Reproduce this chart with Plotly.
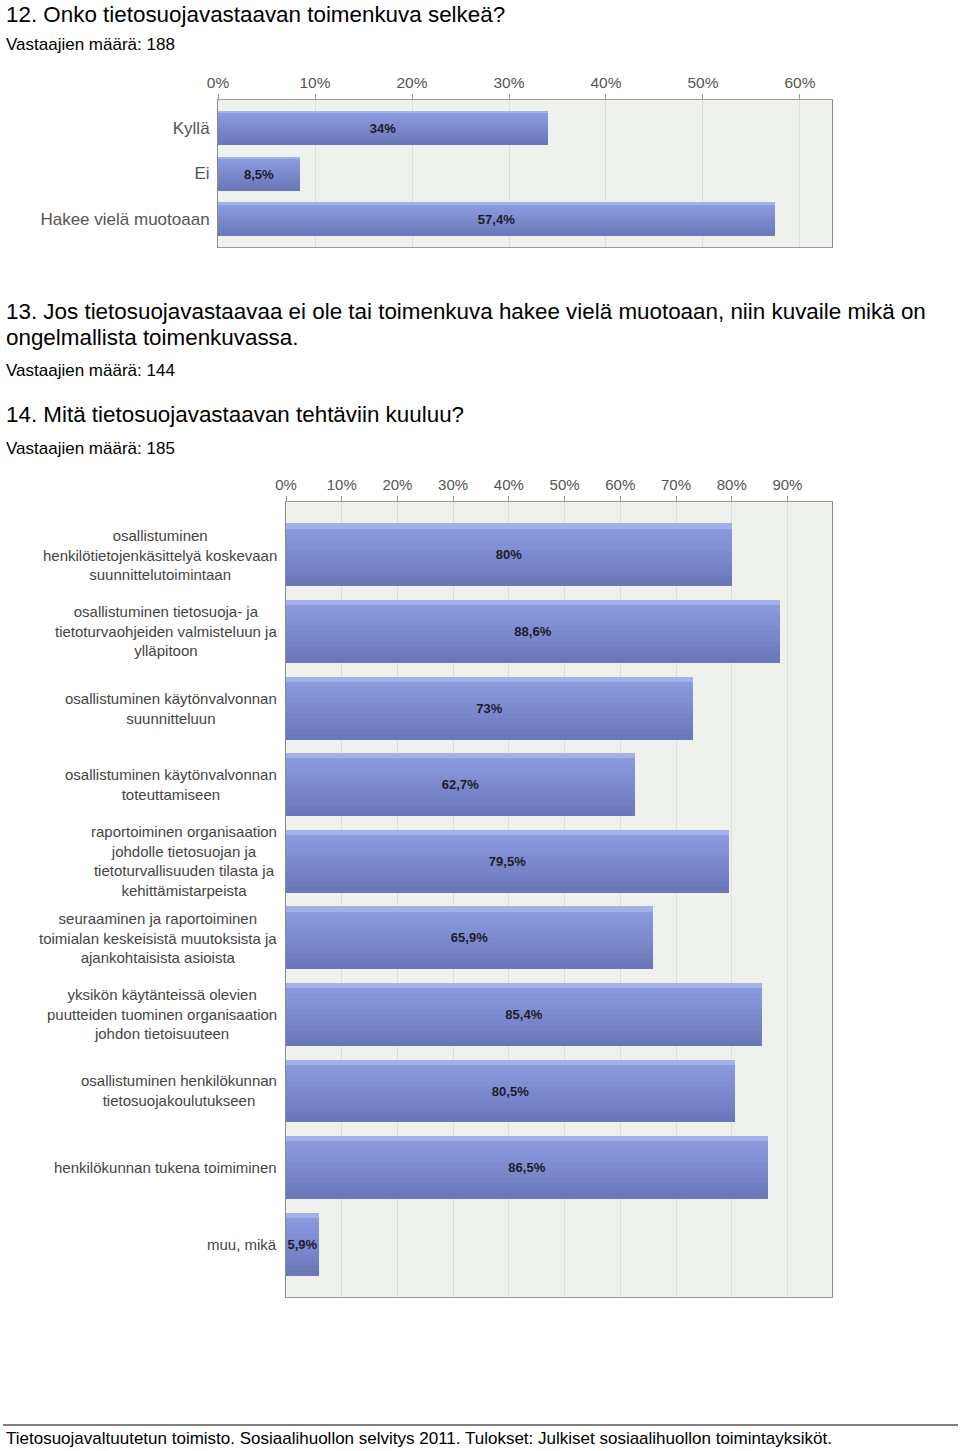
import plotly.graph_objects as go

W, H = 960, 1451

# ---- data ----
q12_labels = ["Kyllä", "Ei", "Hakee vielä muotoaan"]
q12_values = [34, 8.5, 57.4]
q12_ticks = [0, 10, 20, 30, 40, 50, 60]

q14_labels = [
    "osallistuminen<br>henkilötietojenkäsittelyä koskevaan<br>suunnittelutoimintaan",
    "osallistuminen tietosuoja- ja<br>tietoturvaohjeiden valmisteluun ja<br>ylläpitoon",
    "osallistuminen käytönvalvonnan<br>suunnitteluun",
    "osallistuminen käytönvalvonnan<br>toteuttamiseen",
    "raportoiminen organisaation<br>johdolle tietosuojan ja<br>tietoturvallisuuden tilasta ja<br>kehittämistarpeista",
    "seuraaminen ja raportoiminen<br>toimialan keskeisistä muutoksista ja<br>ajankohtaisista asioista",
    "yksikön käytänteissä olevien<br>puutteiden tuominen organisaation<br>johdon tietoisuuteen",
    "osallistuminen henkilökunnan<br>tietosuojakoulutukseen",
    "henkilökunnan tukena toimiminen",
    "muu, mikä",
]
q14_values = [80, 88.6, 73, 62.7, 79.5, 65.9, 85.4, 80.5, 86.5, 5.9]
q14_ticks = [0, 10, 20, 30, 40, 50, 60, 70, 80, 90]

FONT = "Liberation Sans, Arial, sans-serif"


def fmt(v):
    return f"{v:g}".replace(".", ",") + "%"


def lerp(c1, c2, t):
    return "#%02x%02x%02x" % tuple(round(a + (b - a) * t) for a, b in zip(c1, c2))


TOP = (0x8d, 0x9d, 0xe2)
BOT = (0x6a, 0x78, 0xba)

fig = go.Figure()


def add_bars(labels, values, bw, xa, ya, n=12):
    ids = [str(i) for i in range(len(labels))]
    step = bw / n
    for i in range(n):
        col = lerp(TOP, BOT, i / (n - 1))
        if i == 0:
            col = "#a4b0e8"
        fig.add_trace(go.Bar(
            x=values, y=ids, orientation="h", width=step * 1.02,
            offset=-bw / 2 + i * step, marker=dict(color=col, line=dict(width=0)),
            xaxis=xa, yaxis=ya, showlegend=False, hoverinfo="skip"))
    fig.add_trace(go.Bar(
        x=values, y=ids, orientation="h", width=bw, offset=-bw / 2,
        marker=dict(color="rgba(0,0,0,0)", line=dict(width=0)),
        text=[fmt(v) for v in values], textposition="inside",
        insidetextanchor="middle", constraintext="none", textangle=0,
        textfont=dict(family=FONT, size=13, color="#1c1c2c", weight="bold"),
        xaxis=xa, yaxis=ya, showlegend=False,
        hovertemplate="%{x}%<extra></extra>"))
    return ids


ids12 = add_bars(q12_labels, q12_values, 0.74, "x", "y")
ids14 = add_bars(q14_labels, q14_values, 0.82, "x2", "y2")

axis_common = dict(
    side="top", ticks="outside", ticklen=5, tickcolor="#999",
    showgrid=True, gridcolor="#dcdfd9", gridwidth=1,
    showline=True, linecolor="#9a9a9a", linewidth=1, mirror=True,
    zeroline=False, fixedrange=True, automargin=False,
)

fig.update_layout(
    template="none",
    width=W, height=H, margin=dict(l=0, r=0, t=0, b=0, pad=0),
    paper_bgcolor="white", plot_bgcolor="#eff1ec",
    barmode="overlay", bargap=0,
    font=dict(family=FONT, color="#555"),
    xaxis=dict(domain=[218 / W, 832 / W], range=[0, 63.3], anchor="y",
               tickvals=q12_ticks, ticktext=[f"{t}%" for t in q12_ticks],
               tickfont=dict(size=15.5, color="#555"), **axis_common),
    yaxis=dict(domain=[1 - 247 / H, 1 - 100 / H], type="category",
               range=[2.6, -0.6], anchor="x", showgrid=False,
               showline=True, linecolor="#888", mirror=True, automargin=False,
               tickvals=ids12, ticktext=q12_labels, ticks="outside",
               ticklen=4, tickcolor="rgba(0,0,0,0)",
               tickfont=dict(size=17, color="#555"), fixedrange=True),
    xaxis2=dict(domain=[286 / W, 832 / W], range=[0, 98], anchor="y2",
                tickvals=q14_ticks, ticktext=[f"{t}%" for t in q14_ticks],
                tickfont=dict(size=15, color="#555"), **axis_common),
    yaxis2=dict(domain=[1 - 1297 / H, 1 - 502 / H], type="category",
                range=[9.69, -0.69], anchor="x2", showgrid=False,
                showline=True, linecolor="#888", mirror=True, automargin=False,
                showticklabels=False, ticks="", fixedrange=True),
)

# category labels for the second chart (centered multi-line)
for cid, lab in zip(ids14, q14_labels):
    fig.add_annotation(x=279 / W, xref="paper", xanchor="right",
                       y=cid, yref="y2", yanchor="middle",
                       text=lab, showarrow=False, align="center",
                       font=dict(family=FONT, size=15, color="#444"))

# headings
texts = [
    ("12. Onko tietosuojavastaavan toimenkuva selkeä?", 14, 22.4),
    ("Vastaajien määrä: 188", 45, 17),
    ("13. Jos tietosuojavastaavaa ei ole tai toimenkuva hakee vielä muotoaan, niin kuvaile mikä on", 311, 22.4),
    ("ongelmallista toimenkuvassa.", 337, 22.4),
    ("Vastaajien määrä: 144", 370, 17),
    ("14. Mitä tietosuojavastaavan tehtäviin kuuluu?", 414, 22.4),
    ("Vastaajien määrä: 185", 448, 17),
    ("Tietosuojavaltuutetun toimisto. Sosiaalihuollon selvitys 2011. Tulokset: Julkiset sosiaalihuollon toimintayksiköt.", 1438, 17),
]
for t, ypx, fs in texts:
    fig.add_annotation(x=4 / W, xref="paper", xanchor="left",
                       y=1 - ypx / H, yref="paper", yanchor="middle",
                       text=t, showarrow=False, align="left",
                       font=dict(family=FONT, size=fs, color="#000"))

fig.add_shape(type="line", xref="paper", yref="paper",
              x0=3 / W, x1=958 / W, y0=1 - 1425 / H, y1=1 - 1425 / H,
              line=dict(color="#000", width=1))

fig.write_html("out.html")
